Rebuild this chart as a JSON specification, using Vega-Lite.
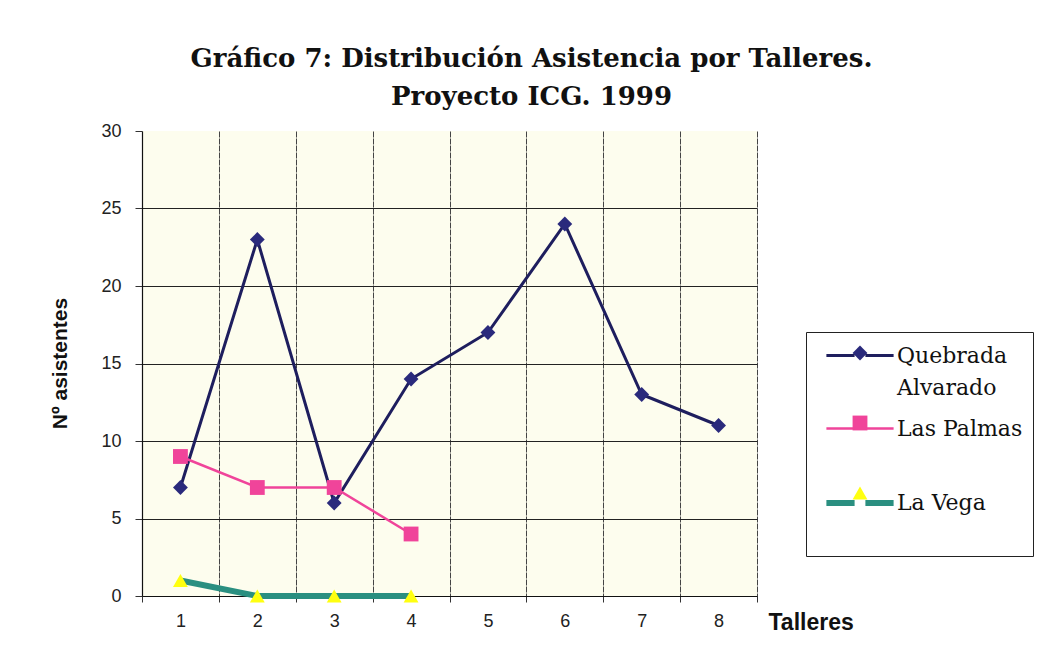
{
  "$schema": "https://vega.github.io/schema/vega-lite/v6.json",
  "width": 615,
  "height": 465,
  "autosize": {"type": "none"},
  "padding": {"left": 142, "top": 131, "right": 290, "bottom": 49},
  "background": "white",
  "title": {
    "text": ["Gráfico 7: Distribución Asistencia por Talleres.", "Proyecto ICG. 1999"],
    "font": "DejaVu Serif",
    "fontSize": 26,
    "fontWeight": "bold",
    "color": "#111111",
    "lineHeight": 38,
    "anchor": "middle",
    "frame": "group",
    "dx": 82,
    "offset": 12
  },
  "config": {
    "view": {"fill": "#FDFDEE", "stroke": null}
  },
  "data": {
    "values": [
      {"Taller": 1, "Serie": "Quebrada Alvarado", "Asistentes": 7},
      {"Taller": 2, "Serie": "Quebrada Alvarado", "Asistentes": 23},
      {"Taller": 3, "Serie": "Quebrada Alvarado", "Asistentes": 6},
      {"Taller": 4, "Serie": "Quebrada Alvarado", "Asistentes": 14},
      {"Taller": 5, "Serie": "Quebrada Alvarado", "Asistentes": 17},
      {"Taller": 6, "Serie": "Quebrada Alvarado", "Asistentes": 24},
      {"Taller": 7, "Serie": "Quebrada Alvarado", "Asistentes": 13},
      {"Taller": 8, "Serie": "Quebrada Alvarado", "Asistentes": 11},
      {"Taller": 1, "Serie": "Las Palmas", "Asistentes": 9},
      {"Taller": 2, "Serie": "Las Palmas", "Asistentes": 7},
      {"Taller": 3, "Serie": "Las Palmas", "Asistentes": 7},
      {"Taller": 4, "Serie": "Las Palmas", "Asistentes": 4},
      {"Taller": 1, "Serie": "La Vega", "Asistentes": 1},
      {"Taller": 2, "Serie": "La Vega", "Asistentes": 0},
      {"Taller": 3, "Serie": "La Vega", "Asistentes": 0},
      {"Taller": 4, "Serie": "La Vega", "Asistentes": 0}
    ]
  },
  "encoding": {
    "x": {
      "field": "Taller",
      "type": "ordinal",
      "bandPosition": 0.5,
      "scale": {"type": "band", "paddingInner": 0, "paddingOuter": 0},
      "axis": {
        "title": "Talleres",
        "labelAngle": 0,
        "tickBand": "extent",
        "grid": true,
        "gridColor": {"condition": {"test": "datum.extra", "value": "transparent"}, "value": "#444444"},
        "gridWidth": 1,
        "gridDash": [6, 1],
        "domainColor": "#111111",
        "domainWidth": 1.2,
        "tickColor": "#333333",
        "tickSize": 6,
        "labelFont": "Liberation Sans",
        "labelFontSize": 18,
        "labelColor": "#222222",
        "labelPadding": 10,
        "titleFont": "Liberation Sans",
        "titleFontSize": 23,
        "titleFontWeight": "bold",
        "titleColor": "#111111",
        "titleX": 626,
        "titleY": 26,
        "titleAlign": "left",
        "titleBaseline": "middle",
        "titleAnchor": null
      }
    },
    "y": {
      "field": "Asistentes",
      "type": "quantitative",
      "scale": {"domain": [0, 30], "nice": false},
      "axis": {
        "title": "Nº asistentes",
        "values": [0, 5, 10, 15, 20, 25, 30],
        "grid": true,
        "gridColor": {"condition": {"test": "datum.value == 30", "value": "transparent"}, "value": "#222222"},
        "gridWidth": 1,
        "domainColor": "#111111",
        "domainWidth": 1.2,
        "tickColor": "#333333",
        "tickSize": 7,
        "labelFont": "Liberation Sans",
        "labelFontSize": 18,
        "labelColor": "#222222",
        "labelPadding": 14,
        "titleFont": "Liberation Sans",
        "titleFontSize": 21,
        "titleFontWeight": "bold",
        "titleColor": "#111111",
        "titleX": -82,
        "titleY": 232,
        "titleAngle": 270,
        "titleAlign": "center",
        "titleBaseline": "middle"
      }
    }
  },
  "layer": [
    {
      "mark": {"type": "point", "filled": true, "opacity": 0, "size": 220},
      "encoding": {
        "fill": {
          "field": "Serie",
          "type": "nominal",
          "sort": ["Quebrada Alvarado", "Las Palmas", "La Vega"],
          "scale": {"range": ["#2A2A7C", "#F0449A", "#FFFF10"]},
          "legend": {
            "orient": "none",
            "legendX": 664,
            "legendY": 201,
            "title": null,
            "padding": 10,
            "symbolSize": 576,
            "rowPadding": 16,
            "labelOffset": 51,
            "labelFont": "DejaVu Serif",
            "labelFontSize": 22,
            "labelOpacity": 0,
            "labelLimit": 300,
            "labelExpr": "[' ', ' ']",
            "strokeColor": "transparent",
            "fillColor": "transparent",
            "encode": {
              "symbols": {"update": {"size": {"value": 220}, "x": {"value": 44}, "opacity": {"value": 1}, "strokeWidth": {"value": 0}, "shape": {"scale": "shape", "field": "value"}}},
              "labels": {"update": {"lineHeight": {"value": 32}}}
            }
          }
        },
        "shape": {
          "field": "Serie",
          "type": "nominal",
          "sort": ["Quebrada Alvarado", "Las Palmas", "La Vega"],
          "scale": {"range": ["diamond", "square", "triangle-up"]},
          "legend": null
        }
      }
    },
    {
      "mark": {"type": "line"},
      "encoding": {
        "stroke": {
          "field": "Serie",
          "type": "nominal",
          "scale": {
            "domain": ["Quebrada Alvarado", "Las Palmas", "La Vega"],
            "range": ["#1E1E5E", "#F0449A", "#2A8F80"]
          },
          "legend": {
            "orient": "none",
            "legendX": 664,
            "legendY": 201,
            "title": null,
            "padding": 10,
            "symbolType": "M-2.8,0H-0.45M0.45,0H2.8",
            "symbolSize": 576,
            "rowPadding": 16,
            "labelOffset": 51,
            "labelFont": "DejaVu Serif",
            "labelFontSize": 22,
            "labelColor": "#111111",
            "labelLimit": 300,
            "labelExpr": "datum.label == 'Quebrada Alvarado' ? ['Quebrada', 'Alvarado'] : [datum.label, ' ']",
            "strokeColor": "#222222",
            "fillColor": "transparent",
            "encode": {
              "symbols": {"update": {"strokeWidth": {"scale": "strokeWidth", "field": "value"}, "x": {"value": 44}}},
              "labels": {"update": {"lineHeight": {"value": 32}}}
            }
          }
        },
        "strokeWidth": {
          "field": "Serie",
          "type": "nominal",
          "scale": {
            "type": "ordinal",
            "domain": ["Quebrada Alvarado", "Las Palmas", "La Vega"],
            "range": [3, 2.5, 6]
          },
          "legend": null
        }
      }
    },
    {
      "mark": {"type": "point", "filled": true, "opacity": 1, "strokeWidth": 0, "size": 220},
      "encoding": {
        "fill": {
          "field": "Serie",
          "type": "nominal",
          "sort": ["Quebrada Alvarado", "Las Palmas", "La Vega"],
          "legend": null
        },
        "shape": {
          "field": "Serie",
          "type": "nominal",
          "sort": ["Quebrada Alvarado", "Las Palmas", "La Vega"],
          "legend": null
        }
      }
    }
  ]
}
